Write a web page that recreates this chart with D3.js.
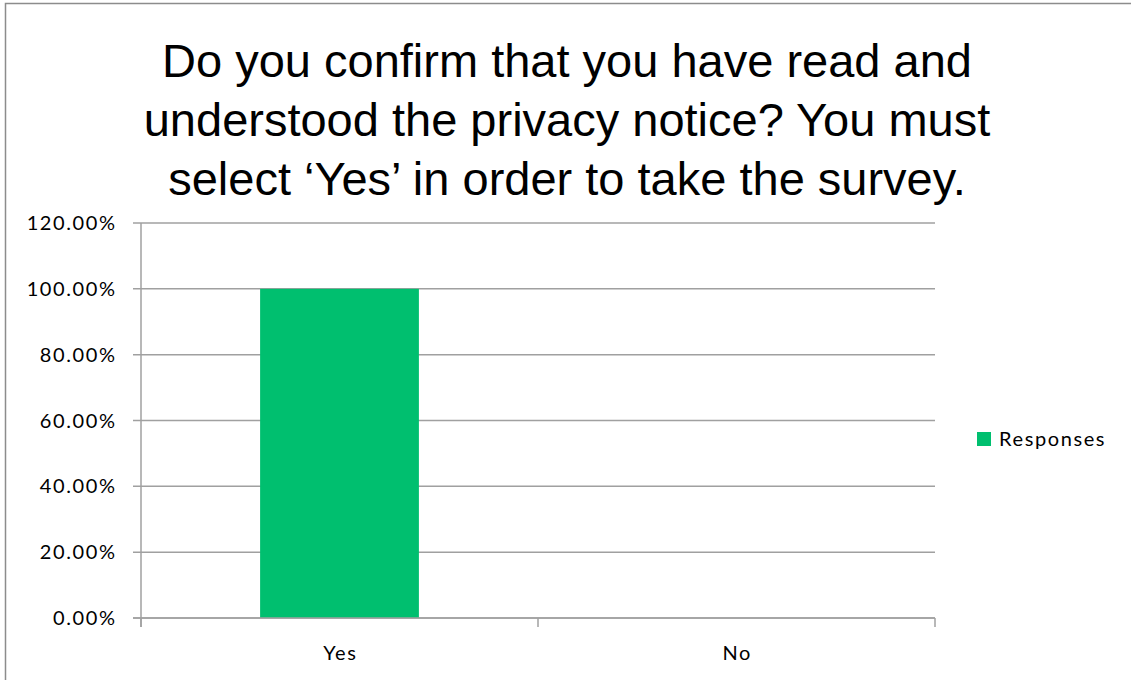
<!DOCTYPE html>
<html>
<head>
<meta charset="utf-8">
<script src="https://cdn.jsdelivr.net/npm/d3@7"></script>
<style>
  body { margin: 0; background: #fff; }
  svg { display: block; }
</style>
</head>
<body>
<svg id="chart" width="1131" height="680"></svg>
<script>
var categories = ['Yes', 'No'];
var responses = [1.0, 0.0];
var yTicks = [0, 0.2, 0.4, 0.6, 0.8, 1.0, 1.2];
var titleLines = [
  'Do you confirm that you have read and',
  'understood the privacy notice? You must',
  'select \u2018Yes\u2019 in order to take the survey.'
];
var seriesName = 'Responses';

function drawChart() {
  var svg = d3.select('#chart');
  var plot = { left: 141, right: 935, top: 223, bottom: 618 };
  var green = '#00bf6f';
  var grid = '#a0a0a0';
  var labelFont = 'Lato, "Open Sans", sans-serif';
  var spacing = 1.6;

  // outer frame (runs off the right and bottom edges)
  svg.append('rect')
    .attr('x', 5.5).attr('y', 3.5)
    .attr('width', 1140).attr('height', 700)
    .attr('fill', 'none')
    .attr('stroke', '#8c8c8c')
    .attr('stroke-width', 1.5);

  var x = d3.scaleBand()
    .domain(categories)
    .range([plot.left, plot.right])
    .paddingInner(0.6).paddingOuter(0.3);
  var band = d3.scaleBand()
    .domain(categories)
    .range([plot.left, plot.right]);
  var y = d3.scaleLinear()
    .domain([0, 1.2])
    .range([plot.bottom, plot.top]);

  // gridlines
  svg.append('g').selectAll('line')
    .data(yTicks)
    .enter().append('line')
    .attr('x1', plot.left - 8).attr('x2', plot.right)
    .attr('y1', function (d) { return y(d); })
    .attr('y2', function (d) { return y(d); })
    .attr('stroke', grid)
    .attr('stroke-width', 1.5);

  // y labels
  svg.append('g').selectAll('text')
    .data(yTicks)
    .enter().append('text')
    .attr('x', plot.left - 26 + spacing)
    .attr('y', function (d) { return y(d); })
    .attr('dy', '0.35em')
    .attr('text-anchor', 'end')
    .attr('font-family', labelFont)
    .attr('font-size', 20)
    .attr('letter-spacing', spacing)
    .attr('fill', '#000')
    .text(function (d) { return d3.format('.2%')(d); });

  // bars
  svg.append('g').selectAll('rect')
    .data(categories)
    .enter().append('rect')
    .attr('x', function (d) { return x(d); })
    .attr('width', x.bandwidth())
    .attr('y', function (d, i) { return y(responses[i]); })
    .attr('height', function (d, i) { return plot.bottom - y(responses[i]); })
    .attr('fill', green);

  // axes lines
  svg.append('line')
    .attr('x1', plot.left).attr('x2', plot.left)
    .attr('y1', plot.top).attr('y2', plot.bottom + 9)
    .attr('stroke', grid).attr('stroke-width', 1.5);
  svg.append('line')
    .attr('x1', plot.left - 8).attr('x2', plot.right)
    .attr('y1', plot.bottom).attr('y2', plot.bottom)
    .attr('stroke', grid).attr('stroke-width', 1.5);

  var xTicks = categories.map(function (c) { return band(c); }).concat([plot.right]);
  svg.append('g').selectAll('line')
    .data(xTicks)
    .enter().append('line')
    .attr('x1', function (d) { return d; })
    .attr('x2', function (d) { return d; })
    .attr('y1', plot.bottom).attr('y2', plot.bottom + 9)
    .attr('stroke', grid).attr('stroke-width', 1.5);

  // x labels
  svg.append('g').selectAll('text')
    .data(categories)
    .enter().append('text')
    .attr('x', function (d) { return band(d) + band.bandwidth() / 2 + spacing / 2; })
    .attr('y', 653)
    .attr('dy', '0.35em')
    .attr('text-anchor', 'middle')
    .attr('font-family', labelFont)
    .attr('font-size', 20)
    .attr('letter-spacing', spacing)
    .attr('fill', '#000')
    .text(function (d) { return d; });

  // title
  svg.append('g').selectAll('text')
    .data(titleLines)
    .enter().append('text')
    .attr('x', 567)
    .attr('y', function (d, i) { return 77 + i * 59; })
    .attr('text-anchor', 'middle')
    .attr('font-family', '"Liberation Sans", Arial, sans-serif')
    .attr('font-size', 47)
    .attr('fill', '#000')
    .text(function (d) { return d; });

  // legend
  var legend = svg.append('g').attr('transform', 'translate(977,432)');
  legend.append('rect')
    .attr('width', 14).attr('height', 14)
    .attr('fill', green);
  legend.append('text')
    .attr('x', 22).attr('y', 7)
    .attr('dy', '0.35em')
    .attr('font-family', labelFont)
    .attr('font-size', 20)
    .attr('letter-spacing', spacing)
    .attr('fill', '#000')
    .text(seriesName);
}

drawChart();
</script>
</body>
</html>
